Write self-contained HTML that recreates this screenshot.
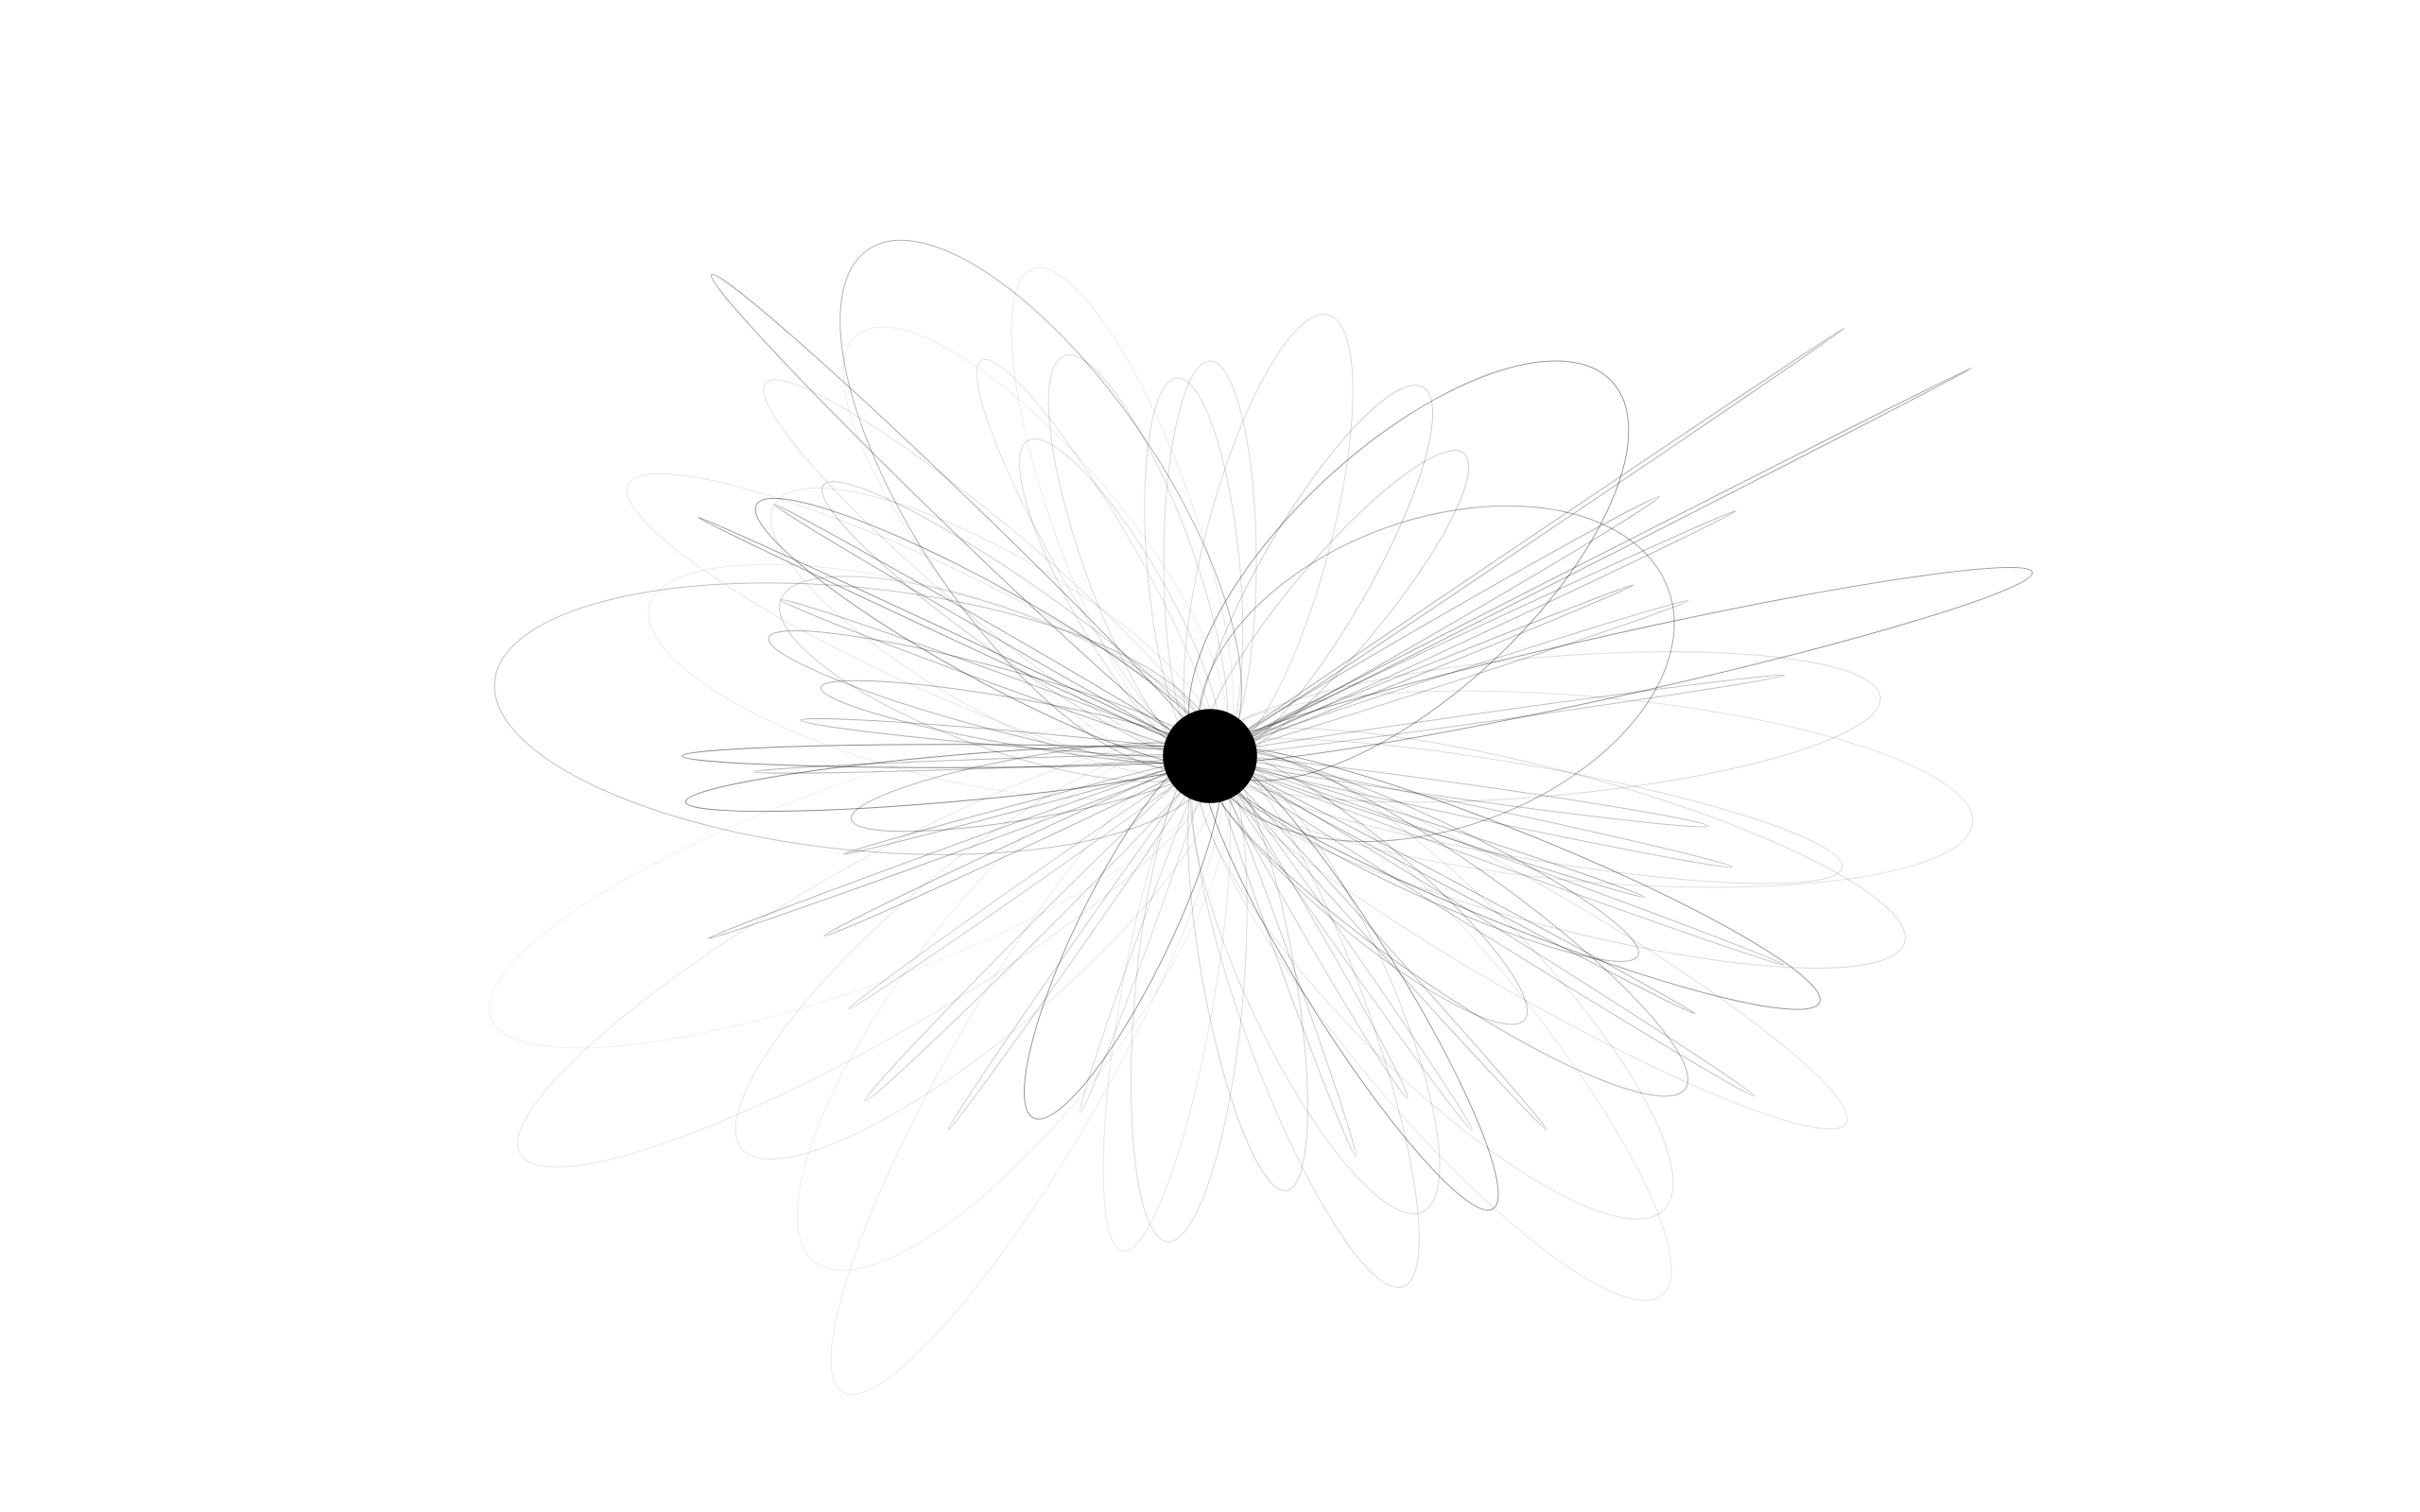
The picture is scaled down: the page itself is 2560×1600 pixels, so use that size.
<!DOCTYPE html>
<html><head><meta charset="utf-8"><style>
html,body{margin:0;padding:0;background:#fff;width:2560px;height:1600px;overflow:hidden}
svg{display:block}
</style></head><body>
<svg id="chart" width="2560" height="1600" viewBox="0 0 1568 980" xmlns="http://www.w3.org/2000/svg">
<rect width="1568" height="980" fill="#fff"/>
<g id="orbits"></g>
<circle cx="784" cy="490" r="30.5" fill="#000"/>
</svg>
<script>
// orbit direction (degrees, screen coords), total length (px), minor width (px), opacity
const orbitAngles  = [224, -43, -12.6, -34, -27, 58, 180, 175, 186, 116, 22, -20, 209, 236, 35, 200, 150, 120, 95, 80, 65, 45, 15, 5, -5, -60, -75, -90, -110, -130, 250, 265, 140, 160, 10, 30, 50, 70, 100, 128, 195, 215, 240, -150, -165, -50, 190, 170, 25, 40,
  205, 210, 200, 160, 155, 165, -25, -30, -18, -22, 20, 28, 32, 18, 60, 70, 110, 125, 135, 145, -140, -155, -120, 185, 178, 12, 8, -8, 48, 55];
const orbitLengths = [453, 360, 550, 500, 558, 350, 346, 345, 470, 265, 430, 320, 340, 400, 380, 300, 520, 480, 320, 290, 330, 420, 470, 500, 440, 280, 300, 260, 340, 360, 280, 250, 400, 500, 420, 480, 460, 370, 330, 420, 300, 310, 240, 330, 380, 260, 260, 240, 310, 270,
  370, 330, 300, 350, 280, 250, 380, 340, 330, 300, 400, 360, 420, 300, 260, 280, 250, 300, 320, 290, 380, 420, 300, 270, 300, 350, 330, 380, 330, 300];
const orbitWidths  = [22, 160, 40, 3, 3, 60, 15, 30, 170, 60, 60, 200, 60, 160, 80, 90, 110, 100, 70, 60, 90, 120, 100, 120, 90, 70, 80, 60, 90, 120, 70, 60, 110, 130, 60, 70, 110, 80, 60, 140, 40, 50, 60, 100, 120, 60, 30, 40, 50, 60,
  4, 6, 8, 5, 6, 4, 5, 8, 6, 4, 6, 5, 8, 6, 10, 8, 8, 6, 10, 6, 60, 80, 50, 10, 6, 8, 10, 6, 6, 8];
const orbitOpacity = [0.35, 0.4, 0.4, 0.3, 0.35, 0.4, 0.45, 0.45, 0.25, 0.4, 0.4, 0.35, 0.4, 0.3, 0.3, 0.2, 0.1, 0.08, 0.15, 0.18, 0.15, 0.12, 0.15, 0.12, 0.15, 0.2, 0.15, 0.15, 0.08, 0.07, 0.15, 0.15, 0.1, 0.06, 0.15, 0.12, 0.1, 0.15, 0.1, 0.07, 0.3, 0.2, 0.15, 0.1, 0.08, 0.2, 0.3, 0.3, 0.3, 0.25,
  0.4, 0.35, 0.3, 0.3, 0.3, 0.3, 0.3, 0.3, 0.25, 0.3, 0.25, 0.3, 0.25, 0.3, 0.2, 0.2, 0.15, 0.2, 0.2, 0.2, 0.12, 0.1, 0.12, 0.3, 0.3, 0.25, 0.25, 0.25, 0.25, 0.2];

const cx = 784, cy = 490;
const g = document.getElementById('orbits');
const NS = 'http://www.w3.org/2000/svg';
for (let i = 0; i < orbitAngles.length; i++) {
  const a = orbitLengths[i] / 2;
  const b = orbitWidths[i] / 2;
  const t = orbitAngles[i] * Math.PI / 180;
  const ex = cx + Math.cos(t) * (a - 4);
  const ey = cy + Math.sin(t) * (a - 4);
  const el = document.createElementNS(NS, 'ellipse');
  el.setAttribute('cx', ex);
  el.setAttribute('cy', ey);
  el.setAttribute('rx', a);
  el.setAttribute('ry', b);
  el.setAttribute('transform', 'rotate(' + orbitAngles[i] + ' ' + ex + ' ' + ey + ')');
  el.setAttribute('fill', 'none');
  el.setAttribute('stroke', '#000');
  el.setAttribute('stroke-width', '0.6');
  el.setAttribute('stroke-opacity', orbitOpacity[i]);
  
  
  g.appendChild(el);
}
</script>
</body></html>
